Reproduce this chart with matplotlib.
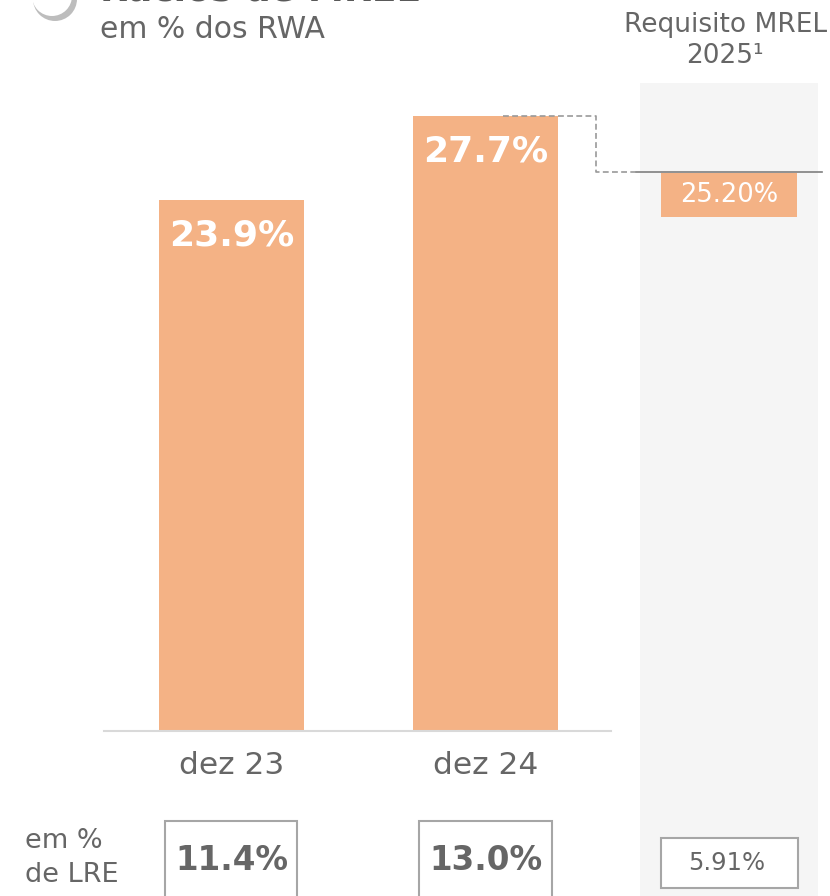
"""Rácios de MREL - em % dos RWA / em % de LRE"""
import matplotlib.pyplot as plt
from matplotlib.patches import Rectangle, Circle
from matplotlib.transforms import IdentityTransform

periods = ['dez 23', 'dez 24']
mrel_rwa = [23.9, 27.7]   # % dos RWA
mrel_lre = [11.4, 13.0]   # % de LRE
req_rwa = 25.20           # requisito MREL 2025 (RWA)
req_lre = 5.91            # requisito MREL 2025 (LRE)

ORANGE = '#F4B285'
GREY = '#666666'
PANEL = '#F5F5F5'
plt.rcParams['font.family'] = ['DejaVu Sans']

fig = plt.figure(figsize=(8.3, 8.96), dpi=100)
ax = fig.add_axes([0, 0, 1, 1])
ax.set_xlim(-0.911, 2.356)
ax.set_ylim(-7.43, 32.93)
ax.axis('off')

x = list(range(len(periods)))
req_x = 1.96  # posição da coluna do requisito

# painel cinzento do requisito
ax.add_patch(Rectangle((1.608, -7.5), 0.701, 29.19 + 7.5, color=PANEL, zorder=0, lw=0))

# barras
ax.bar(x, mrel_rwa, width=0.571, color=ORANGE, zorder=2)
for xi, v in zip(x, mrel_rwa):
    ax.text(xi, v - 1.6, f'{v:.1f}%', ha='center', va='center', color='white',
            fontsize=26, fontweight='bold', zorder=3)
ax.plot([-0.502, 1.494], [0, 0], color='#d9d9d9', lw=1.5, zorder=3)
for xi, p in zip(x, periods):
    ax.text(xi, -1.53, p, ha='center', va='center', color=GREY, fontsize=22.5)

# linha do requisito + tracejado a partir da barra de dez 24
ax.plot([1.593, 2.325], [req_rwa, req_rwa], color='#7f7f7f', lw=1.2, zorder=3)
ax.plot([1.069, 1.435, 1.435, 1.593], [mrel_rwa[1], mrel_rwa[1], req_rwa, req_rwa],
        color='#999999', lw=1.2, ls=(0, (3.5, 2)), zorder=3)
ax.add_patch(Rectangle((req_x - 0.268, req_rwa - 2.05), 0.535, 2.0, color=ORANGE, lw=0, zorder=2))
ax.text(req_x, req_rwa - 1.05, f'{req_rwa:.2f}%', ha='center', va='center', color='white',
        fontsize=18.5, zorder=3)

# linha inferior: em % de LRE
ax.text(-0.813, -5.72, 'em %\nde LRE', ha='left', va='center', color=GREY, fontsize=19.5,
        linespacing=1.4)
for xi, v in zip(x, mrel_lre):
    ax.add_patch(Rectangle((xi - 0.26, -7.6), 0.52, 7.6 - 4.05, fill=False,
                           edgecolor='#a6a6a6', lw=1.5, zorder=2))
    ax.text(xi, -5.81, f'{v:.1f}%', ha='center', va='center', color=GREY,
            fontsize=23.5, fontweight='bold')
ax.add_patch(Rectangle((req_x - 0.27, -7.07), 0.539, 7.07 - 4.82, facecolor='white',
                       edgecolor='#a6a6a6', lw=1.5, zorder=2))
ax.text(req_x - 0.01, -5.95, f'{req_lre:.2f}%', ha='center', va='center', color=GREY,
        fontsize=17.5, zorder=3)

# títulos
ax.text(-0.518, 32.85, 'Rácios de MREL', ha='left', va='baseline', color='#595959',
        fontsize=26, fontweight='bold')
ax.text(-0.518, 31.58, 'em % dos RWA', ha='left', va='center', color=GREY, fontsize=21.5)
ax.text(1.943, 31.8, 'Requisito MREL', ha='center', va='center', color=GREY, fontsize=19)
ax.text(1.943, 30.4, '2025¹', ha='center', va='center', color=GREY, fontsize=19)

# ícone circular (cortado no topo)
fig.patches.append(Circle((55, 896 + 1), 22, transform=IdentityTransform(),
                          facecolor='#bdbdbd', lw=0, figure=fig))
fig.patches.append(Circle((52, 896 + 4), 20, transform=IdentityTransform(),
                          facecolor='white', lw=0, figure=fig))

fig.savefig('out.png', dpi=100)
